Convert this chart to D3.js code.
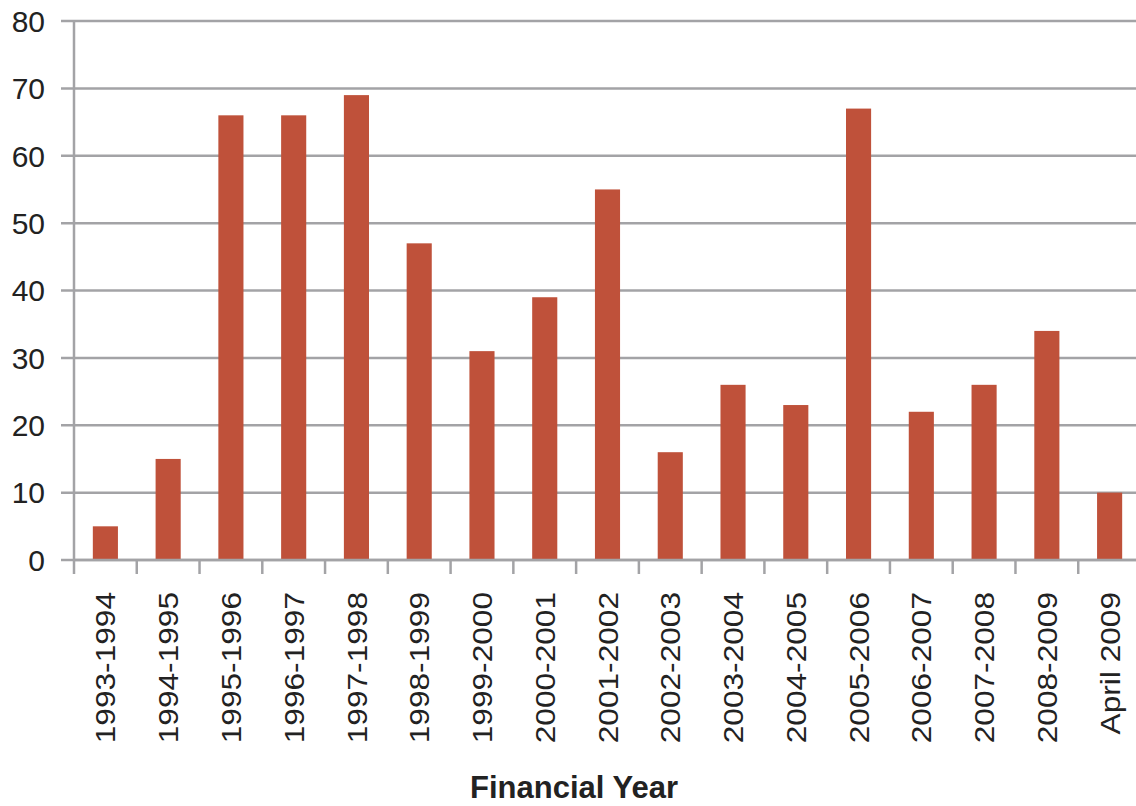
<!DOCTYPE html>
<html>
<head>
<meta charset="utf-8">
<script src="https://cdn.jsdelivr.net/npm/d3@7"></script>
<style>
  body { margin: 0; background: #fff; }
  svg { display: block; font-family: "Liberation Sans", Arial, sans-serif; }
</style>
</head>
<body>
<div id="chart"></div>
<script>
// Chart data
const years = ["1993-1994", "1994-1995", "1995-1996", "1996-1997", "1997-1998", "1998-1999",
  "1999-2000", "2000-2001", "2001-2002", "2002-2003", "2003-2004", "2004-2005",
  "2005-2006", "2006-2007", "2007-2008", "2008-2009", "April 2009"];
const counts = [5, 15, 66, 66, 69, 47, 31, 39, 55, 16, 26, 23, 67, 22, 26, 34, 10];
const yTicks = [0, 10, 20, 30, 40, 50, 60, 70, 80];

const width = 1136, height = 806;
const plotLeft = 74, plotRight = 1141, plotTop = 21, plotBottom = 560;
const gridColor = "#a3a3a6";

const svg = d3.select('#chart')
    .append('svg')
    .attr('width', width)
    .attr('height', height);

const x = d3.scaleBand()
    .domain(years)
    .range([plotLeft, plotRight])
    .paddingInner(0.6)
    .paddingOuter(0.3);

const y = d3.scaleLinear()
    .domain([0, 80])
    .range([plotBottom, plotTop]);

// Gridlines
svg.append('g')
    .selectAll('line')
    .data(yTicks)
    .join('line')
    .attr('x1', plotLeft - 13)
    .attr('x2', plotRight)
    .attr('y1', d => y(d))
    .attr('y2', d => y(d))
    .style('stroke', gridColor)
    .style('stroke-width', 2.5);

// Y tick labels
svg.append('g')
    .selectAll('text')
    .data(yTicks)
    .join('text')
    .attr('x', 45)
    .attr('y', d => y(d))
    .attr('dy', '0.36em')
    .attr('text-anchor', 'end')
    .style('font-size', '30px')
    .style('fill', '#222')
    .text(d => d);

// Y axis line
svg.append('line')
    .attr('x1', plotLeft).attr('x2', plotLeft)
    .attr('y1', plotTop).attr('y2', plotBottom)
    .style('stroke', gridColor)
    .style('stroke-width', 2.5);

// Bars
svg.append('g')
    .selectAll('rect')
    .data(years)
    .join('rect')
    .attr('x', d => x(d))
    .attr('width', x.bandwidth())
    .attr('y', (d, i) => y(counts[i]))
    .attr('height', (d, i) => y(0) - y(counts[i]))
    .style('fill', '#bf513a');

// X axis line and ticks between bands
const step = x.step();
const tickPos = years.map((d, i) => plotLeft + i * step);
svg.append('line')
    .attr('x1', plotLeft).attr('x2', plotRight)
    .attr('y1', plotBottom).attr('y2', plotBottom)
    .style('stroke', gridColor)
    .style('stroke-width', 2.5);
svg.append('g')
    .selectAll('line')
    .data(tickPos)
    .join('line')
    .attr('x1', d => d).attr('x2', d => d)
    .attr('y1', plotBottom).attr('y2', plotBottom + 14)
    .style('stroke', gridColor)
    .style('stroke-width', 2.5);

// X labels (rotated, slightly stretched along the text like the source)
svg.append('g')
    .selectAll('text')
    .data(years)
    .join('text')
    .attr('transform', d => `translate(${x(d) + x.bandwidth() / 2}, 592) rotate(-90) scale(1.13, 1)`)
    .attr('dy', '0.36em')
    .attr('text-anchor', 'end')
    .style('font-size', '28px')
    .style('fill', '#222')
    .text(d => d);

// X axis title
svg.append('text')
    .attr('x', 574)
    .attr('y', 798)
    .attr('text-anchor', 'middle')
    .style('font-size', '31px')
    .style('font-weight', 'bold')
    .style('fill', '#222')
    .text('Financial Year');
</script>
</body>
</html>
